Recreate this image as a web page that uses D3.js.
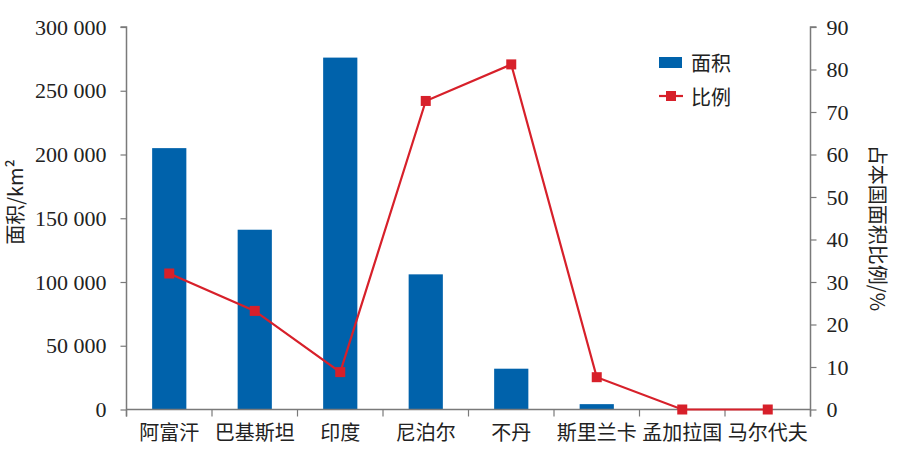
<!DOCTYPE html>
<html><head><meta charset="utf-8">
<script src="https://cdn.jsdelivr.net/npm/d3@7"></script>
<style>body{margin:0;background:#fff}svg{display:block}</style>
</head><body><svg id="c" width="900" height="449"></svg>
<script>
const categories = ["阿富汗","巴基斯坦","印度","尼泊尔","不丹","斯里兰卡","孟加拉国","马尔代夫"];
const areaValues = [205000,141000,276000,106000,32000,4200,0,0];
const ratioValues = [32,23.2,8.8,72.6,81.2,7.6,0,0];
const leftTicks = [0,50000,100000,150000,200000,250000,300000];
const rightTicks = [0,10,20,30,40,50,60,70,80,90];
const seriesNames = ["面积","比例"];
const axisTitles = ["面积/km²","占本国面积比例/%"];

const svg = d3.select("#c");
const L=126.5, R=810.5, T=27, B=409.5;
const x = d3.scaleBand().domain(categories).range([L,R]).paddingInner(0.6).paddingOuter(0.3);
const xb = d3.scaleBand().domain(categories).range([L,R]);
const yL = d3.scaleLinear().domain([0,300000]).range([B,T]);
const yR = d3.scaleLinear().domain([0,90]).range([B,T]);
const axisColor="#7a7a7a", blue="#0062ab", red="#d7202a";
const numFont="'Liberation Serif','DejaVu Serif',serif", cjk="'Noto Sans CJK SC','Noto Sans',sans-serif";
const fmt = v => d3.format(",")(v).replace(/,/g," ");

// bars
const bw = xb.bandwidth()*0.4;
svg.append("g").selectAll("rect").data(categories).join("rect")
 .attr("x",(d)=>xb(d)+xb.bandwidth()/2-bw/2).attr("width",bw)
 .attr("y",(d,i)=>yL(areaValues[i])).attr("height",(d,i)=>B-yL(areaValues[i]))
 .attr("fill",blue);

// left axis
const gl = svg.append("g").attr("transform",`translate(${L},0)`)
 .call(d3.axisLeft(yL).tickValues(leftTicks).tickFormat(fmt).tickSize(6).tickPadding(14));
gl.select(".domain").attr("d",`M-6,${T}H0V${B+7}`);
// right axis
const gr = svg.append("g").attr("transform",`translate(${R},0)`)
 .call(d3.axisRight(yR).tickValues(rightTicks).tickSize(6).tickPadding(10));
gr.select(".domain").attr("d",`M6,${T}H0V${B+7}`);
// bottom axis
const gb = svg.append("g").attr("transform",`translate(0,${B})`)
 .call(d3.axisBottom(xb).tickSize(0).tickPadding(16));
gb.select(".domain").attr("d",`M${L},0H${R}`);
gb.selectAll(".tick line").remove();
gb.selectAll(".tkb").data(d3.range(categories.length+1)).join("line")
 .attr("x1",i=>L+i*xb.step()).attr("x2",i=>L+i*xb.step()).attr("y1",0).attr("y2",7)
 .attr("stroke",axisColor).attr("stroke-width",1.2);

[gl,gr,gb].forEach(g=>{
 g.selectAll(".domain").attr("stroke",axisColor).attr("stroke-width",1.5).attr("fill","none");
 g.selectAll(".tick line").attr("stroke",axisColor).attr("stroke-width",1.2);
});
[gl,gr].forEach(g=>g.selectAll(".tick text").attr("font-family",numFont).attr("font-size",22).attr("fill","#222"));
gb.selectAll(".tick text").attr("font-family",cjk).attr("font-size",20).attr("fill","#222").attr("dy","0.71em");

// line
const pts = categories.map((c,i)=>[xb(c)+xb.bandwidth()/2, yR(ratioValues[i])]);
svg.append("path").attr("d",d3.line()(pts)).attr("fill","none").attr("stroke",red).attr("stroke-width",2.2);
svg.append("g").selectAll("rect").data(pts).join("rect")
 .attr("x",d=>d[0]-5).attr("y",d=>d[1]-5).attr("width",10).attr("height",10).attr("fill",red);

// axis titles
svg.append("text").attr("transform","translate(14,202) rotate(-90)")
 .attr("text-anchor","middle").attr("dominant-baseline","central")
 .attr("font-family",cjk).attr("font-size",20).attr("fill","#222").text(axisTitles[0]);
svg.append("text").attr("transform","translate(878,228) rotate(90)")
 .attr("text-anchor","middle").attr("dominant-baseline","central")
 .attr("font-family",cjk).attr("font-size",20).attr("fill","#222").text(axisTitles[1]);

// legend
const lg = svg.append("g");
lg.append("rect").attr("x",659).attr("y",57).attr("width",23).attr("height",11).attr("fill",blue);
lg.append("text").attr("x",691).attr("y",62).attr("dominant-baseline","central")
 .attr("font-family",cjk).attr("font-size",20).attr("fill","#222").text(seriesNames[0]);
lg.append("line").attr("x1",659).attr("x2",683).attr("y1",96).attr("y2",96).attr("stroke",red).attr("stroke-width",2.2);
lg.append("rect").attr("x",666).attr("y",91).attr("width",10).attr("height",10).attr("fill",red);
lg.append("text").attr("x",691).attr("y",96).attr("dominant-baseline","central")
 .attr("font-family",cjk).attr("font-size",20).attr("fill","#222").text(seriesNames[1]);
</script></body></html>
